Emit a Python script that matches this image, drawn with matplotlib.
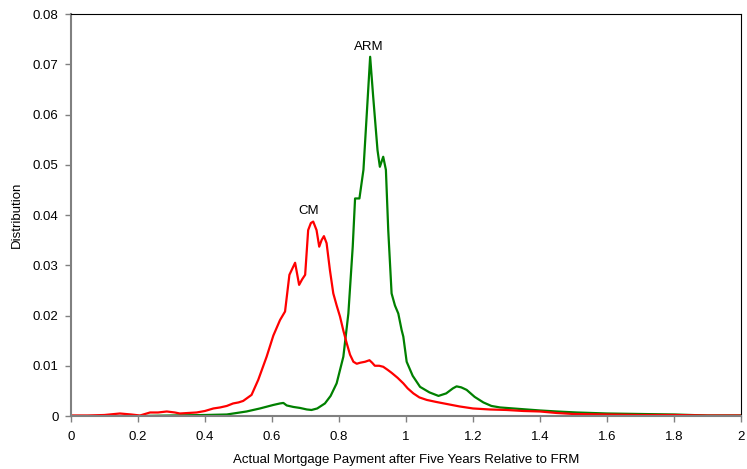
import matplotlib
matplotlib.use("Agg")
import matplotlib.pyplot as plt

plt.rcParams['font.family'] = ['Liberation Sans', 'DejaVu Sans']

# Payment ratio grid and densities for the two mortgage types
cm_x = [0.00, 0.05, 0.10, 0.146, 0.18, 0.206, 0.236, 0.26, 0.286, 0.31, 0.325, 0.35,
        0.375, 0.40, 0.425, 0.445, 0.465, 0.484, 0.50, 0.514, 0.539, 0.559, 0.584,
        0.604, 0.624, 0.639, 0.652, 0.669, 0.681, 0.690, 0.699, 0.708, 0.716, 0.723,
        0.733, 0.741, 0.748, 0.755, 0.763, 0.773, 0.783, 0.793, 0.803, 0.813, 0.823,
        0.833, 0.843, 0.853, 0.863, 0.878, 0.891, 0.899, 0.907, 0.920, 0.932, 0.945,
        0.957, 0.975, 0.992, 1.005, 1.022, 1.040, 1.062, 1.090, 1.121, 1.160, 1.200,
        1.250, 1.300, 1.350, 1.400, 1.450, 1.500, 1.600, 1.700, 1.800, 1.900, 2.000]
cm_y = [0.0001, 0.0001, 0.0002, 0.0005, 0.0003, 0.0001, 0.0007, 0.0007, 0.0009, 0.0007,
        0.0005, 0.0006, 0.0007, 0.0010, 0.0015, 0.0017, 0.0020, 0.0025, 0.0027, 0.0030,
        0.0042, 0.0072, 0.0118, 0.0160, 0.0191, 0.0208, 0.0281, 0.0305, 0.0261, 0.0272,
        0.0281, 0.0370, 0.0384, 0.0387, 0.0370, 0.0337, 0.0350, 0.0358, 0.0344, 0.0290,
        0.0244, 0.0220, 0.0198, 0.0170, 0.0145, 0.0122, 0.0108, 0.0104, 0.0106, 0.0108,
        0.0111, 0.0106, 0.0100, 0.0100, 0.0098, 0.0092, 0.0086, 0.0076, 0.0065, 0.0055,
        0.0045, 0.0037, 0.0032, 0.0028, 0.0024, 0.0019, 0.0015, 0.0013, 0.0012, 0.0010,
        0.0009, 0.0006, 0.0004, 0.0003, 0.0002, 0.0002, 0.0001, 0.0001]

arm_x = [0.00, 0.10, 0.20, 0.30, 0.40, 0.465, 0.524, 0.564, 0.604, 0.624, 0.634, 0.644,
         0.664, 0.684, 0.704, 0.718, 0.735, 0.758, 0.775, 0.793, 0.813, 0.828, 0.841,
         0.848, 0.861, 0.873, 0.883, 0.893, 0.902, 0.915, 0.922, 0.932, 0.940, 0.947,
         0.957, 0.967, 0.977, 0.987, 0.992, 1.002, 1.020, 1.042, 1.070, 1.097, 1.120,
         1.140, 1.151, 1.165, 1.181, 1.205, 1.231, 1.255, 1.281, 1.340, 1.400, 1.450,
         1.510, 1.600, 1.700, 1.800, 1.850, 1.900, 2.000]
arm_y = [0.0000, 0.0000, 0.0000, 0.0001, 0.0002, 0.0003, 0.0009, 0.0015, 0.0022, 0.0025,
         0.0026, 0.0021, 0.0018, 0.0016, 0.0013, 0.0012, 0.0015, 0.0025, 0.0040, 0.0065,
         0.0118, 0.0204, 0.0337, 0.0433, 0.0433, 0.0490, 0.0602, 0.0715, 0.0636, 0.0529,
         0.0496, 0.0516, 0.0490, 0.0370, 0.0244, 0.0220, 0.0204, 0.0171, 0.0158, 0.0108,
         0.0080, 0.0058, 0.0047, 0.0040, 0.0045, 0.0055, 0.0059, 0.0057, 0.0052, 0.0038,
         0.0027, 0.0020, 0.0017, 0.0014, 0.0011, 0.0009, 0.0007, 0.0005, 0.0004, 0.0003,
         0.0002, 0.0001, 0.0001]

x_ticks = [0, 0.2, 0.4, 0.6, 0.8, 1.0, 1.2, 1.4, 1.6, 1.8, 2.0]
x_tick_labels = ["0", "0.2", "0.4", "0.6", "0.8", "1", "1.2", "1.4", "1.6", "1.8", "2"]
y_ticks = [0, 0.01, 0.02, 0.03, 0.04, 0.05, 0.06, 0.07, 0.08]
y_tick_labels = ["0", "0.01", "0.02", "0.03", "0.04", "0.05", "0.06", "0.07", "0.08"]

fig = plt.figure(figsize=(7.47, 4.69), dpi=100)
ax = fig.add_axes([0.095, 0.113, 0.897, 0.857])

ax.plot(arm_x, arm_y, color="#008000", lw=1.6, solid_joinstyle="round")
ax.plot(cm_x, cm_y, color="#FF0000", lw=1.6, solid_joinstyle="round")

ax.text(0.89, 0.0722, "ARM", ha="center", va="bottom", fontsize=9.5)
ax.text(0.71, 0.0397, "CM", ha="center", va="bottom", fontsize=9.5)

ax.set_xlim(0, 2)
ax.set_ylim(0, 0.08)
ax.set_xticks(x_ticks)
ax.set_xticklabels(x_tick_labels)
ax.set_yticks(y_ticks)
ax.set_yticklabels(y_tick_labels)

for side in ("left", "bottom"):
    ax.spines[side].set_color("#808080")
    ax.spines[side].set_linewidth(1.5)
for side in ("top", "right"):
    ax.spines[side].set_color("black")
    ax.spines[side].set_linewidth(0.8)

ax.tick_params(axis="both", direction="out", length=4, width=1, color="#808080",
               labelsize=9.5, pad=5)
ax.tick_params(axis="x", pad=7)

ax.set_xlabel("Actual Mortgage Payment after Five Years Relative to FRM", fontsize=9.5, labelpad=8)
ax.set_ylabel("Distribution", fontsize=9.5, labelpad=7)

fig.savefig("out.png", dpi=100)
